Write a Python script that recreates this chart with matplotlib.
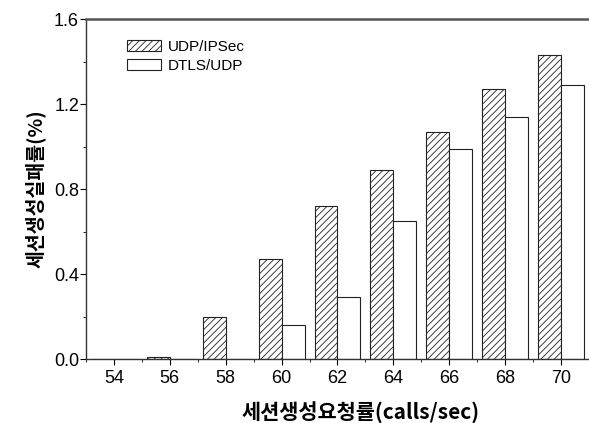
import matplotlib
matplotlib.use("Agg")
import matplotlib.pyplot as plt
from matplotlib.ticker import MultipleLocator

# 세션 생성 요청률별 실패율 (%)
taxa = [54, 56, 58, 60, 62, 64, 66, 68, 70]
udp_ipsec = [0.0, 0.01, 0.20, 0.47, 0.72, 0.89, 1.07, 1.27, 1.43]
dtls_udp = [0.0, 0.0, 0.0, 0.16, 0.29, 0.65, 0.99, 1.14, 1.29]
y_ticks = [0.0, 0.4, 0.8, 1.2, 1.6]

plt.rcParams["font.family"] = ["Liberation Sans", "Noto Sans CJK KR", "DejaVu Sans"]
plt.rcParams["hatch.linewidth"] = 0.6

fig = plt.figure(figsize=(5.89, 4.23), dpi=100)
ax = fig.add_axes([0.146, 0.151, 0.854, 0.804])

largura = 0.82
ax.bar(taxa, udp_ipsec, width=-largura, align="edge", facecolor="white",
       edgecolor="#222222", linewidth=0.8, hatch="/////", label="UDP/IPSec")
ax.bar(taxa, dtls_udp, width=largura, align="edge", facecolor="white",
       edgecolor="#222222", linewidth=0.8, label="DTLS/UDP")

ax.set_xlim(53, 71)
ax.set_ylim(0, 1.6)
ax.set_xticks(taxa)
ax.set_yticks(y_ticks)
ax.set_yticklabels([f"{v:.1f}" for v in y_ticks])
ax.xaxis.set_minor_locator(MultipleLocator(1))
ax.yaxis.set_minor_locator(MultipleLocator(0.2))
ax.tick_params(which="major", direction="out", length=4, width=0.8, labelsize=13)
ax.tick_params(axis="y", which="major", pad=1)
ax.tick_params(which="minor", direction="out", length=2.5, width=0.6)
for s in ax.spines.values():
    s.set_linewidth(1.0)
    s.set_color("#333333")
ax.spines["top"].set_linewidth(1.8)
ax.spines["top"].set_color("#555555")
ax.spines["right"].set_visible(False)

ax.set_xlabel("세션생성요청률(calls/sec)", family=["Noto Sans CJK KR", "DejaVu Sans"],
              fontsize=15, fontweight="bold")
ax.xaxis.set_label_coords(0.545, -0.125)
ax.set_ylabel("세션생성실패률(%)", family=["Noto Sans CJK KR", "DejaVu Sans"],
              fontsize=14, fontweight="bold", labelpad=6)

ax.legend(loc="upper left", bbox_to_anchor=(0.055, 0.98), frameon=False,
          fontsize=11, handlelength=2.2, handleheight=0.75, labelspacing=0.35,
          handletextpad=0.45)

fig.savefig("out.png", dpi=100)
